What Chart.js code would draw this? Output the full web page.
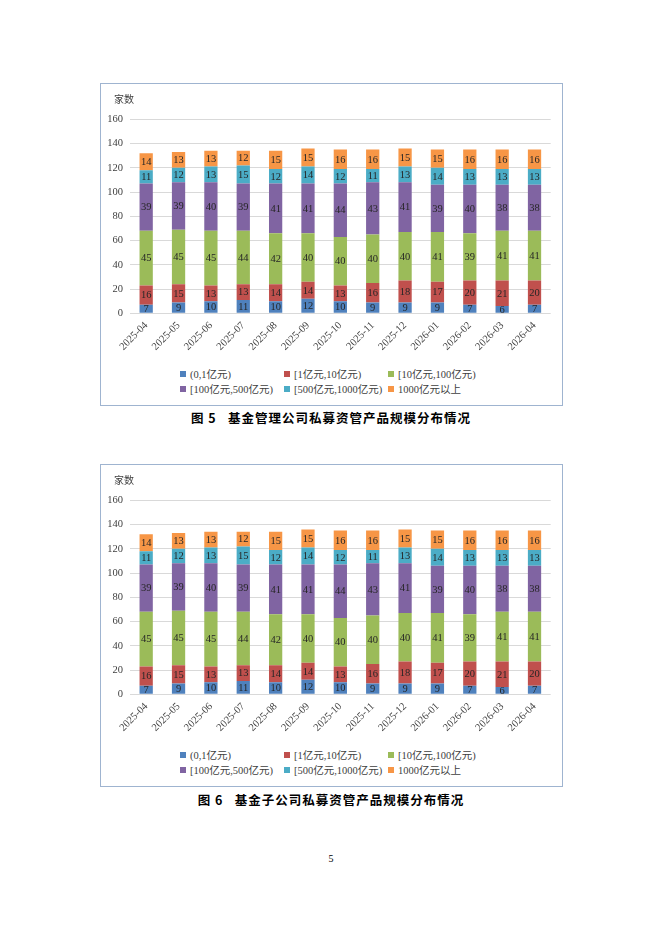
<!DOCTYPE html>
<html>
<head>
<meta charset="utf-8">
<script src="https://cdn.jsdelivr.net/npm/chart.js@4.4.1/dist/chart.umd.min.js"></script>
<style>
    body {
        margin: 0;
        width: 662px;
        height: 936px;
        background: #fff;
        position: relative;
        font-family: "Liberation Serif", "Noto Sans CJK SC", serif;
    }
    .box {
        position: absolute;
        left: 100px;
        width: 463px;
        height: 323px;
        border: 1px solid #9fb4d0;
        box-sizing: border-box;
    }
    .box canvas { position: absolute; left: 0; top: 0; }
    .legend {
        position: absolute;
        left: 79px;
        top: 283px;
        display: grid;
        grid-template-columns: 104px 104px 110px;
        font-size: 10.5px;
        line-height: 15px;
        color: #404040;
        white-space: nowrap;
    }
    .legend .sw {
        display: inline-block;
        width: 6px;
        height: 6px;
        margin-right: 4px;
        vertical-align: 1px;
    }
    .caption {
        position: absolute;
        left: 0;
        width: 662px;
        text-align: center;
        font-weight: bold;
        font-size: 12.5px;
        line-height: 16px;
        letter-spacing: 1px;
        font-family: "Noto Sans CJK SC", sans-serif;
        color: #000;
    }
    .page {
        position: absolute;
        top: 853px;
        left: 0;
        width: 662px;
        text-align: center;
        font-size: 10px;
    }
</style>
</head>
<body>

<div class="box" style="top:83px">
    <canvas id="chart-mgr" width="461" height="280"></canvas>
    <div class="legend" id="legend-mgr"></div>
</div>
<div class="caption" style="top:410px">图 5&nbsp;&nbsp;&nbsp;基金管理公司私募资管产品规模分布情况</div>

<div class="box" style="top:464px">
    <canvas id="chart-sub" width="461" height="280"></canvas>
    <div class="legend" id="legend-sub"></div>
</div>
<div class="caption" style="top:792px">图 6&nbsp;&nbsp;&nbsp;基金子公司私募资管产品规模分布情况</div>

<div class="page">5</div>

<script>
// months on the x axis
const months = [
    "2025-04", "2025-05", "2025-06", "2025-07", "2025-08", "2025-09", "2025-10",
    "2025-11", "2025-12", "2026-01", "2026-02", "2026-03", "2026-04",
];

// product count per size bucket (both figures show the same numbers)
const size_0_1 = [7, 9, 10, 11, 10, 12, 10, 9, 9, 9, 7, 6, 7];
const size_1_10 = [16, 15, 13, 13, 14, 14, 13, 16, 18, 17, 20, 21, 20];
const size_10_100 = [45, 45, 45, 44, 42, 40, 40, 40, 40, 41, 39, 41, 41];
const size_100_500 = [39, 39, 40, 39, 41, 41, 44, 43, 41, 39, 40, 38, 38];
const size_500_1000 = [11, 12, 13, 15, 12, 14, 12, 11, 13, 14, 13, 13, 13];
const size_1000_up = [14, 13, 13, 12, 15, 15, 16, 16, 15, 15, 16, 16, 16];

const series_names = [
    "(0,1亿元)", "[1亿元,10亿元)", "[10亿元,100亿元)",
    "[100亿元,500亿元)", "[500亿元,1000亿元)", "1000亿元以上",
];
const series_colors = ["#4f81bd", "#c0504d", "#9bbb59", "#8064a2", "#4bacc6", "#f79646"];
const series_values = [size_0_1, size_1_10, size_10_100, size_100_500, size_500_1000, size_1000_up];

const y_ticks = { min: 0, max: 160, step: 20 };
const unit_label = "家数";

const serif = '"Liberation Serif", "Noto Sans CJK SC", serif';

// value labels in the middle of every segment
const barLabels = {
    id: "barLabels",
    afterDatasetsDraw(chart) {
        const ctx = chart.ctx;
        ctx.save();
        ctx.font = "10.5px " + serif;
        ctx.fillStyle = "#262626";
        ctx.textAlign = "center";
        ctx.textBaseline = "middle";
        chart.data.datasets.forEach((ds, i) => {
            chart.getDatasetMeta(i).data.forEach((bar, j) => {
                const p = bar.getProps(["x", "y", "base"], true);
                ctx.fillText(ds.data[j], p.x, (p.y + p.base) / 2 + 0.5);
            });
        });
        ctx.restore();
    }
};

// "家数" above the y axis
const unitLabel = {
    id: "unitLabel",
    afterDraw(chart) {
        const ctx = chart.ctx;
        const area = chart.chartArea;
        ctx.save();
        ctx.font = "10px " + serif;
        ctx.fillStyle = "#404040";
        ctx.textAlign = "left";
        ctx.textBaseline = "middle";
        ctx.fillText(unit_label, area.left - 16, area.top - 18.6);
        ctx.restore();
    }
};

function makeChart(canvas_id, legend_id) {
    const datasets = series_names.map((name, i) => ({
        label: name,
        data: series_values[i],
        backgroundColor: series_colors[i],
        borderWidth: 0,
        barPercentage: 0.41,
        categoryPercentage: 1,
    }));

    new Chart(document.getElementById(canvas_id), {
        type: "bar",
        data: { labels: months, datasets },
        options: {
            responsive: false,
            animation: false,
            layout: { padding: { top: 35.3, right: 11.3, bottom: 0, left: 0 } },
            plugins: {
                legend: { display: false },
                tooltip: { enabled: false },
            },
            scales: {
                x: {
                    stacked: true,
                    grid: { display: false, drawTicks: false },
                    border: { display: false },
                    ticks: {
                        minRotation: 45,
                        maxRotation: 45,
                        padding: 6,
                        color: "#404040",
                        font: { family: serif, size: 10.5 },
                    },
                    afterFit(scale) { scale.height = 50.7; },
                },
                y: {
                    stacked: true,
                    min: y_ticks.min,
                    max: y_ticks.max,
                    grid: { color: "#d9d9d9", drawTicks: false },
                    border: { display: false },
                    ticks: {
                        stepSize: y_ticks.step,
                        padding: 7,
                        color: "#404040",
                        font: { family: serif, size: 10.5 },
                    },
                    afterFit(scale) { scale.width = 29; },
                },
            },
        },
        plugins: [barLabels, unitLabel],
    });

    // Excel-style legend in aligned columns
    const legend = document.getElementById(legend_id);
    series_names.forEach((name, i) => {
        const item = document.createElement("div");
        item.innerHTML = '<span class="sw" style="background:' + series_colors[i] + '"></span>' + name;
        legend.appendChild(item);
    });
}

makeChart("chart-mgr", "legend-mgr");
makeChart("chart-sub", "legend-sub");
</script>
</body>
</html>
